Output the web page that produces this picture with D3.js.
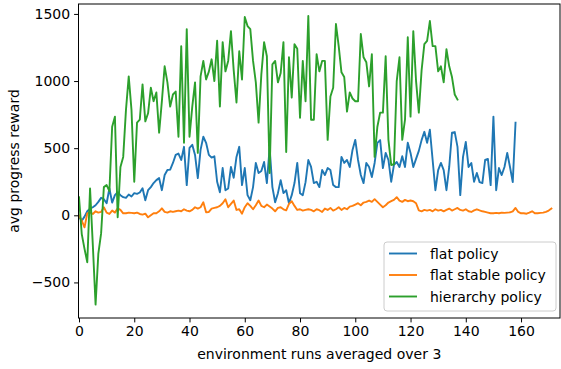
<!DOCTYPE html>
<html>
<head>
<meta charset="utf-8">
<script src="https://cdn.jsdelivr.net/npm/d3@7"></script>
<style>
  body { margin: 0; background: #fff; }
  svg { display: block; font-family: "DejaVu Sans", sans-serif; }
  .axis text { font-size: 14px; fill: #000; font-family: "DejaVu Sans", sans-serif; }
  .axis path, .axis line { stroke: #000; stroke-width: 1px; }
</style>
</head>
<body>
<div id="chart"></div>
<script>
// series values, one per run (x = index)
const flatPolicy = [-15, -40, -10, 30, 50, 60, 75, 100, 130, 120, 90, 200, 95, 150, 172, 150, 135, 130, 155, 140,
  165, 160, 170, 202, 112, 187, 210, 240, 262, 277, 187, 300, 337, 340, 390, 450, 460, 412, 510, 225,
  502, 525, 450, 277, 487, 585, 540, 450, 430, 440, 250, 172, 352, 187, 200, 360, 280, 435, 510, 225,
  352, 150, 112, 210, 390, 315, 330, 397, 240, 502, 210, 97, 165, 262, 165, 187, 90, 150, 240, 390,
  165, 150, 247, 412, 360, 240, 250, 210, 337, 300, 352, 337, 225, 210, 210, 435, 390, 412, 360, 487,
  562, 412, 300, 240, 390, 360, 285, 390, 540, 560, 352, 465, 412, 250, 375, 397, 360, 440, 360, 540,
  465, 360, 420, 480, 560, 622, 540, 637, 412, 187, 337, 390, 337, 187, 360, 615, 620, 510, 150, 435,
  547, 360, 390, 250, 315, 247, 240, 412, 420, 225, 735, 187, 352, 300, 360, 465, 360, 247, 690];

const flatStablePolicy = [0, -40, -90, 15, 22, 10, 30, 20, 25, 60, 20, 10, 35, 20, 52, 40, 15, 15, 20, 18,
  15, 20, 10, 5, 12, -15, 0, 15, 15, 30, 52, 25, 20, 30, 25, 30, 35, 30, 45, 35,
  30, 40, 60, 50, 60, 97, 22, 25, 50, 55, 60, 70, 90, 120, 60, 85, 110, 40, 45, 12,
  60, 90, 70, 45, 75, 110, 70, 60, 80, 65, 50, 30, 55, 60, 45, 37, 85, 105, 70, 40,
  45, 35, 40, 45, 40, 30, 45, 38, 25, 50, 40, 55, 35, 45, 60, 40, 55, 45, 65, 70,
  80, 90, 75, 95, 100, 110, 100, 120, 100, 80, 60, 75, 95, 105, 115, 135, 110, 100, 115, 105,
  110, 105, 90, 37, 30, 40, 35, 40, 30, 45, 35, 40, 30, 40, 50, 35, 45, 55, 40, 35,
  45, 30, 25, 37, 45, 37, 30, 25, 20, 15, 15, 18, 15, 20, 18, 20, 22, 30, 55, 25,
  15, 15, 12, 20, 30, 15, 15, 18, 20, 25, 35, 50];

const hierarchyPolicy = [135, -140, -250, -350, 200, -220, -665, -285, -135, 210, 225, 180, 660, 735, -15, 360, 435, 785, 1035, 785,
  250, 690, 712, 975, 700, 760, 950, 850, 915, 615, 850, 1110, 990, 810, 900, 922, 585, 1260, 540, 1387,
  585, 810, 990, 465, 1035, 1150, 1012, 1070, 1162, 1000, 1300, 810, 1290, 1072, 1150, 1372, 1080, 840, 1222, 1012,
  1477, 1410, 1387, 1150, 990, 690, 1050, 1290, 1185, 315, 1125, 1150, 990, 1060, 1290, 472, 1177, 877, 1275, 1240,
  727, 1150, 850, 1485, 712, 712, 1200, 1072, 1150, 1150, 562, 885, 950, 1425, 1260, 1065, 1030, 772, 915, 870,
  850, 850, 1350, 1177, 1140, 960, 1200, 435, 660, 765, 765, 1185, 562, 375, 380, 1000, 1177, 562, 712, 1327,
  735, 1372, 1000, 765, 1080, 1275, 1300, 1447, 1260, 1260, 1072, 1110, 990, 1237, 1110, 1030, 900, 862];

const seriesNames = ["flat policy", "flat stable policy", "hierarchy policy"];
const seriesColors = ["#1f77b4", "#ff7f0e", "#2ca02c"];
const xTicks = [0, 20, 40, 60, 80, 100, 120, 140, 160];
const yTicks = [-500, 0, 500, 1000, 1500];

const W = 561, H = 369;
const plot = {left: 78.5, right: 560, top: 4, bottom: 318};

const svg = d3.select("#chart").append("svg")
  .attr("width", W).attr("height", H);

const xScale = d3.scaleLinear().domain([0, 174.1]).range([plot.left + 0.5, plot.right]);
const yScale = d3.scaleLinear().domain([-765, 1574]).range([plot.bottom, plot.top]);

const fmt = d => d < 0 ? "\u2212" + Math.abs(d) : String(d);

// lines
const line = d3.line()
  .x((d, i) => xScale(i))
  .y(d => yScale(d));

svg.append("defs").append("clipPath").attr("id", "clip")
  .append("rect")
  .attr("x", plot.left).attr("y", plot.top)
  .attr("width", plot.right - plot.left).attr("height", plot.bottom - plot.top);

const allSeries = [flatPolicy, flatStablePolicy, hierarchyPolicy];
svg.append("g").attr("clip-path", "url(#clip)")
  .selectAll("path")
  .data(allSeries)
  .enter()
  .append("path")
  .attr("d", line)
  .attr("fill", "none")
  .attr("stroke", (d, i) => seriesColors[i])
  .attr("stroke-width", 1.9)
  .attr("stroke-linejoin", "round")
  .attr("stroke-linecap", "square");

// axes
const xAxis = d3.axisBottom(xScale).tickValues(xTicks).tickFormat(fmt)
  .tickSize(4.4).tickPadding(4).tickSizeOuter(0);
svg.append("g").attr("class", "axis")
  .attr("transform", "translate(0," + plot.bottom + ")")
  .call(xAxis)
  .call(g => g.select(".domain").remove());

const yAxis = d3.axisLeft(yScale).tickValues(yTicks).tickFormat(fmt)
  .tickSize(4.4).tickPadding(4).tickSizeOuter(0);
svg.append("g").attr("class", "axis")
  .attr("transform", "translate(" + plot.left + ",0)")
  .call(yAxis)
  .call(g => g.select(".domain").remove());

// frame
svg.append("rect")
  .attr("x", plot.left).attr("y", plot.top)
  .attr("width", plot.right - plot.left).attr("height", plot.bottom - plot.top)
  .attr("fill", "none").attr("stroke", "#000").attr("stroke-width", 1);

// axis labels
svg.append("text")
  .attr("x", (plot.left + plot.right) / 2).attr("y", 359)
  .attr("text-anchor", "middle")
  .style("font-size", "14px")
  .text("environment runs averaged over 3");

svg.append("text")
  .attr("transform", "translate(19," + (plot.top + plot.bottom) / 2 + ") rotate(-90)")
  .attr("text-anchor", "middle")
  .style("font-size", "14px")
  .text("avg progress reward");

// legend
const legend = svg.append("g").attr("transform", "translate(384,242)");
legend.append("rect")
  .attr("width", 172).attr("height", 69).attr("rx", 3)
  .attr("fill", "#fff").attr("fill-opacity", 0.8)
  .attr("stroke", "#cccccc").attr("stroke-width", 1);

const rows = legend.selectAll(".row")
  .data(seriesNames)
  .enter()
  .append("g")
  .attr("class", "row")
  .attr("transform", (d, i) => "translate(0," + (11.5 + i * 21.5) + ")");

rows.append("line")
  .attr("x1", 5).attr("x2", 33)
  .attr("stroke", (d, i) => seriesColors[i])
  .attr("stroke-width", 1.9);

rows.append("text")
  .attr("x", 46).attr("y", 5)
  .style("font-size", "14px")
  .text(d => d);
</script>
</body>
</html>
